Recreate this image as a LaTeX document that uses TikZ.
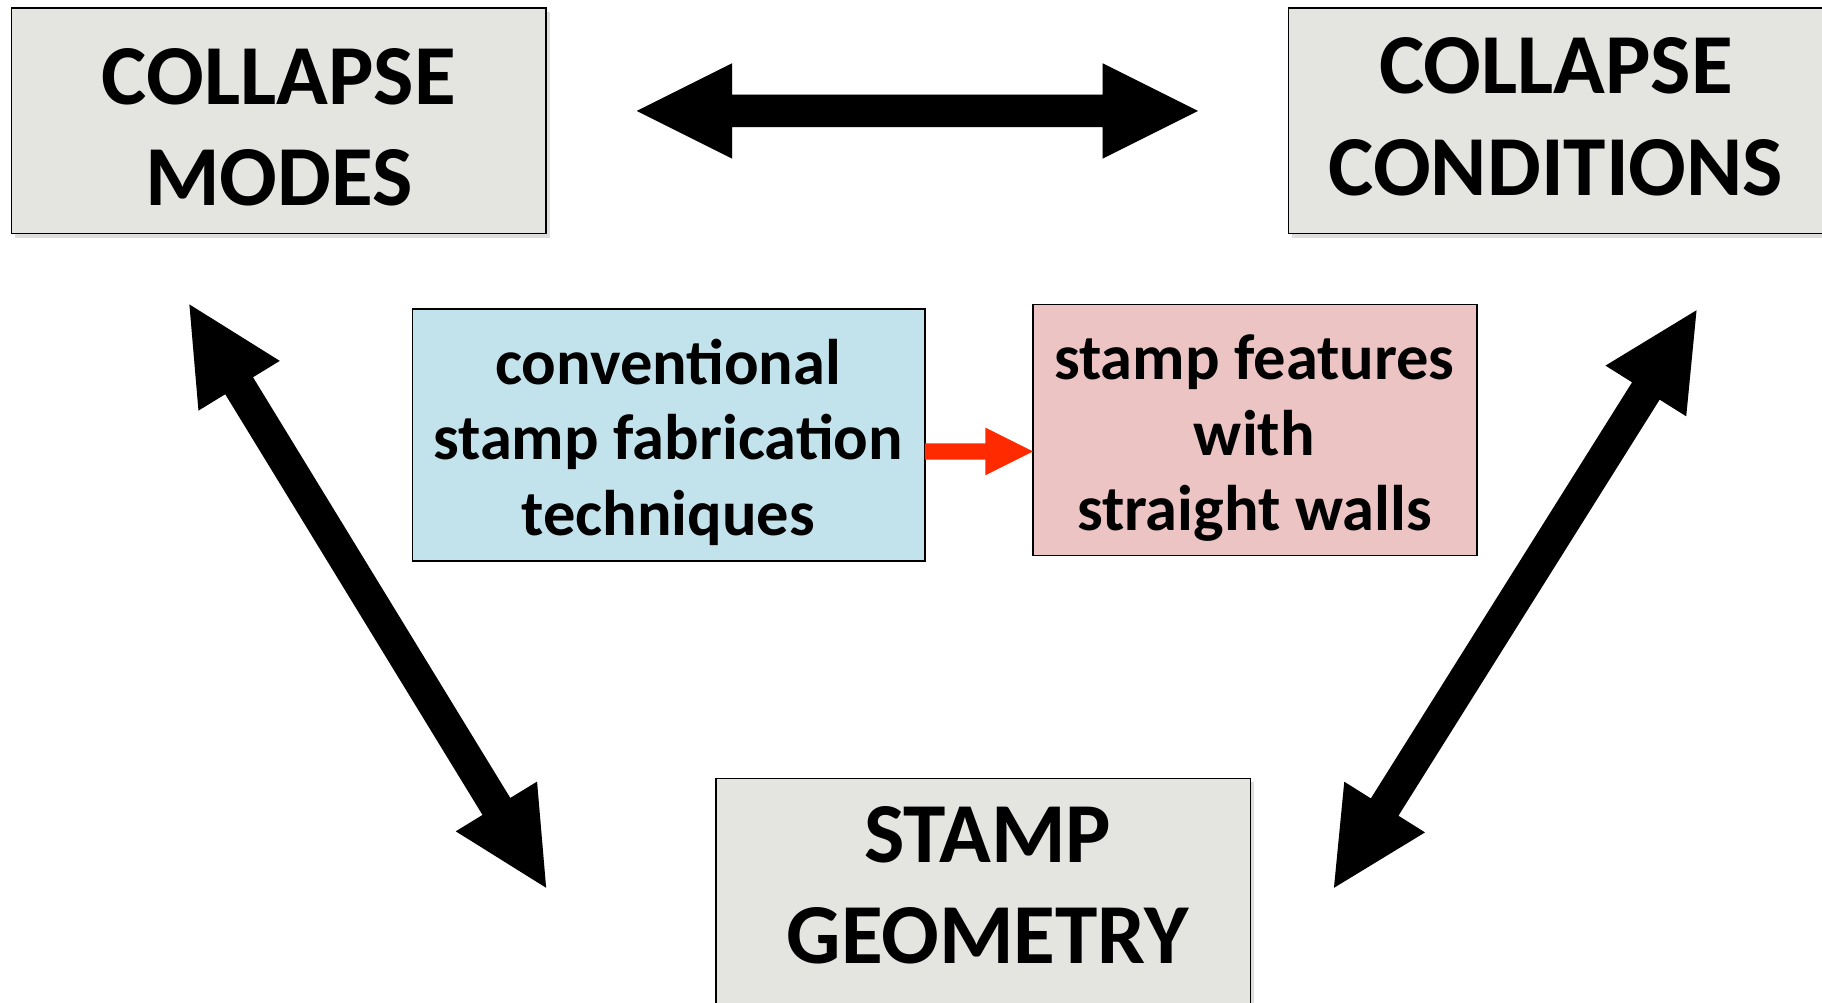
\documentclass[tikz,border=0pt]{standalone}
\usepackage{fontspec}
\setmainfont{Carlito}
\usetikzlibrary{calc}
\definecolor{boxgray}{RGB}{228,229,225}
\definecolor{boxblue}{RGB}{195,227,236}
\definecolor{boxpink}{RGB}{236,196,196}
\definecolor{arrred}{RGB}{255,42,0}
\tikzset{
  x=1pt, y=-1pt,
  boxbase/.style={draw=black, line width=1.3pt, inner sep=0pt, outer sep=0pt, rectangle},
  graybox/.style={boxbase, fill=boxgray, minimum width=460pt, minimum height=194pt},
  titletext/.style={align=center, inner sep=0pt, font=\fontsize{73.5}{87}\selectfont\bfseries},
  smalltext/.style={align=center, inner sep=0pt, font=\fontsize{55.5}{65}\selectfont\bfseries},
  shadowfill/.style={fill=black, opacity=0.13},
}
% double-headed block arrow: from, to, head length, head half width, shaft half width
\newcommand{\blockdbl}[6][]{%
  \fill[#1] let \p1=($(#3)-(#2)$), \n1={veclen(\x1,\y1)}, \n2={atan2(\y1,\x1)} in
    [shift={(#2)}, rotate=\n2]
    (0pt,0pt) -- (#4,#5) -- (#4,#6) -- (\n1-#4,#6) -- (\n1-#4,#5) -- (\n1,0pt)
    -- (\n1-#4,-#5) -- (\n1-#4,-#6) -- (#4,-#6) -- (#4,-#5) -- cycle;}
% single-headed block arrow
\newcommand{\blocksgl}[6][]{%
  \fill[#1] let \p1=($(#3)-(#2)$), \n1={veclen(\x1,\y1)}, \n2={atan2(\y1,\x1)} in
    [shift={(#2)}, rotate=\n2]
    (0pt,#6) -- (\n1-#4,#6) -- (\n1-#4,#5) -- (\n1,0pt)
    -- (\n1-#4,-#5) -- (\n1-#4,-#6) -- (0pt,-#6) -- cycle;}
\begin{document}
\begin{tikzpicture}
\clip (0,0) rectangle (1568,863);
\useasboundingbox (0,0) rectangle (1568,863);

% shadows of boxes
\fill[shadowfill] (13,10) rectangle (473,205);
\fill[shadowfill] (1112,10) rectangle (1572,205);
\fill[shadowfill] (619,673) rectangle (1079,870);

% boxes
\node[graybox] (cm) at (240,104) {};
\node[graybox] (cc) at (1339,104) {};
\node[graybox, minimum height=196pt] (sg) at (846,768) {};
\node[boxbase, fill=boxblue, minimum width=441pt, minimum height=217pt] (conv) at (575.5,374.5) {};
\node[boxbase, fill=boxpink, minimum width=382pt, minimum height=216pt] (sf) at (1080,370) {};

% texts
\node[titletext] (cmt) at (240,109.5) {COLLAPSE\\MODES};
\node[titletext] (cct) at (1339,100.5) {COLLAPSE\\CONDITIONS};
\node[titletext] (sgt) at (850,762) {STAMP\\GEOMETRY};
\node[smalltext] (convt) at (575,380.5) {conventional\\stamp fabrication\\techniques};
\node[smalltext] (sft) at (1079.5,377) {stamp features\\with\\straight walls};

% arrow end points
\coordinate (hA) at (548,95.5);
\coordinate (hB) at (1031,95.5);
\coordinate (lA) at (163,262);
\coordinate (lB) at (470,764);
\coordinate (rA) at (1460,267);
\coordinate (rB) at (1148,764);
\coordinate (rlev) at (0,388.5);
\coordinate (redA) at (conv.east |- rlev);
\coordinate (redB) at (sf.west |- rlev);

% arrow shadows
\begin{scope}[shift={(2,3)}]
\blockdbl[shadowfill]{hA}{hB}{82pt}{41pt}{14pt}
\blockdbl[shadowfill]{lA}{lB}{82pt}{41pt}{14pt}
\blockdbl[shadowfill]{rA}{rB}{82pt}{41pt}{14pt}
\end{scope}

% big arrows
\blockdbl[black]{hA}{hB}{82pt}{41pt}{14pt}
\blockdbl[black]{lA}{lB}{82pt}{41pt}{14pt}
\blockdbl[black]{rA}{rB}{82pt}{41pt}{14pt}

% red arrow
\blocksgl[arrred]{redA}{redB}{41pt}{20.5pt}{7pt}
\end{tikzpicture}
\end{document}
